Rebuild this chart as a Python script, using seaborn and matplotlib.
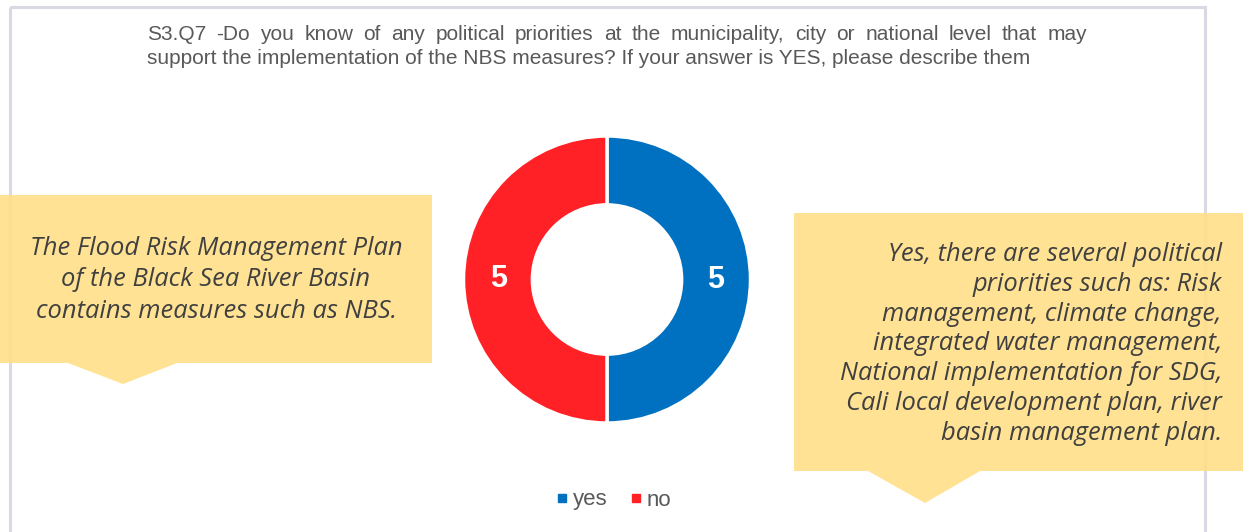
import matplotlib
matplotlib.use("Agg")
import matplotlib.pyplot as plt
import seaborn as sns
from matplotlib.patches import Polygon, Rectangle
from matplotlib.lines import Line2D

# Survey answers
categories = ["yes", "no"]
counts = [5, 5]
colors = ["#0070C0", "#FF2125"]

title_lines = [
    "S3.Q7 -Do you know of any political priorities at the municipality, city or national level that may",
    "support the implementation of the NBS measures? If your answer is YES, please describe them",
]
left_note = ("The Flood Risk Management Plan\n"
             "of the Black Sea River Basin\n"
             "contains measures such as NBS.")
right_note = ("Yes, there are several political\n"
              "priorities such as: Risk\n"
              "management, climate change,\n"
              "integrated water management,\n"
              "National implementation for SDG,\n"
              "Cali local development plan, river\n"
              "basin management plan.")

sns.set_theme(style="white")
plt.rcParams["font.family"] = ["Liberation Sans", "DejaVu Sans"]

W, H = 1248, 532
fig = plt.figure(figsize=(W / 100, H / 100), dpi=100)
fig.patch.set_facecolor("white")

# overlay axes in pixel units for frame, callouts and title
ov = fig.add_axes([0, 0, 1, 1])
ov.set_xlim(0, W)
ov.set_ylim(H, 0)
ov.axis("off")

ov.add_patch(Rectangle((10, 7), 1195, 600, fill=False, edgecolor="#D9D9E3",
                       linewidth=2.2, zorder=1))

# title: first line justified between the text margins
renderer = fig.canvas.get_renderer()
title_kw = dict(fontsize=15, color="#595959", va="baseline", ha="left", zorder=3)
x0, x1 = 147, 1087
words = title_lines[0].split(" ")
texts = [ov.text(0, 39.5, w, **title_kw) for w in words]
widths = [t.get_window_extent(renderer).width for t in texts]
gap = (x1 - x0 - sum(widths)) / (len(words) - 1)
x = x0
for t, w in zip(texts, widths):
    t.set_x(x)
    x += w + gap
ov.text(x0, 63.5, title_lines[1], **title_kw)

note_color = "#FFDF88"
ov.add_patch(Polygon([(0, 195), (432, 195), (432, 363), (177, 363), (123, 384),
                      (68, 363), (0, 363)], closed=True, facecolor=note_color,
                     edgecolor="none", alpha=0.9, zorder=2))
ov.add_patch(Polygon([(794, 213), (1243, 213), (1243, 471), (980, 471), (925, 503),
                      (868, 471), (794, 471)], closed=True, facecolor=note_color,
                     edgecolor="none", alpha=0.9, zorder=2))

note_font = dict(family=["Open Sans", "DejaVu Sans"], style="italic", fontsize=18.4,
                 color="#404040", zorder=3)
ov.text(216, 280, left_note, ha="center", va="center", multialignment="center",
        linespacing=1.32, **note_font)
ov.text(1222, 344, right_note, ha="right", va="center", multialignment="right",
        linespacing=1.25, **note_font)

# donut
cx, cy, r = 607, 279.5, 143.5
half = 150
pax = fig.add_axes([(cx - half) / W, (H - cy - half) / H, 2 * half / W, 2 * half / H])
pax.set_aspect("equal")
total = sum(counts)
wedges, _, autotexts = pax.pie(
    counts, colors=colors, startangle=90, counterclock=False,
    wedgeprops=dict(width=0.48, edgecolor="white", linewidth=2.5),
    autopct=lambda p: f"{round(p * total / 100):d}", pctdistance=0.755,
    textprops=dict(color="white", fontsize=22, fontweight="bold"),
)
pax.set_xlim(-half / r, half / r)
pax.set_ylim(-half / r, half / r)
pax.axis("off")

handles = [Line2D([], [], marker="s", linestyle="none", markersize=6,
                  markerfacecolor=c, markeredgecolor=c) for c in colors]
fig.legend(handles, categories, loc="center", bbox_to_anchor=(614 / W, 1 - 500 / H),
           ncol=2, frameon=False, fontsize=16, labelcolor="#595959",
           handlelength=0.5, handletextpad=0.25, columnspacing=1.0)

fig.savefig("out.png", dpi=100, facecolor="white")
